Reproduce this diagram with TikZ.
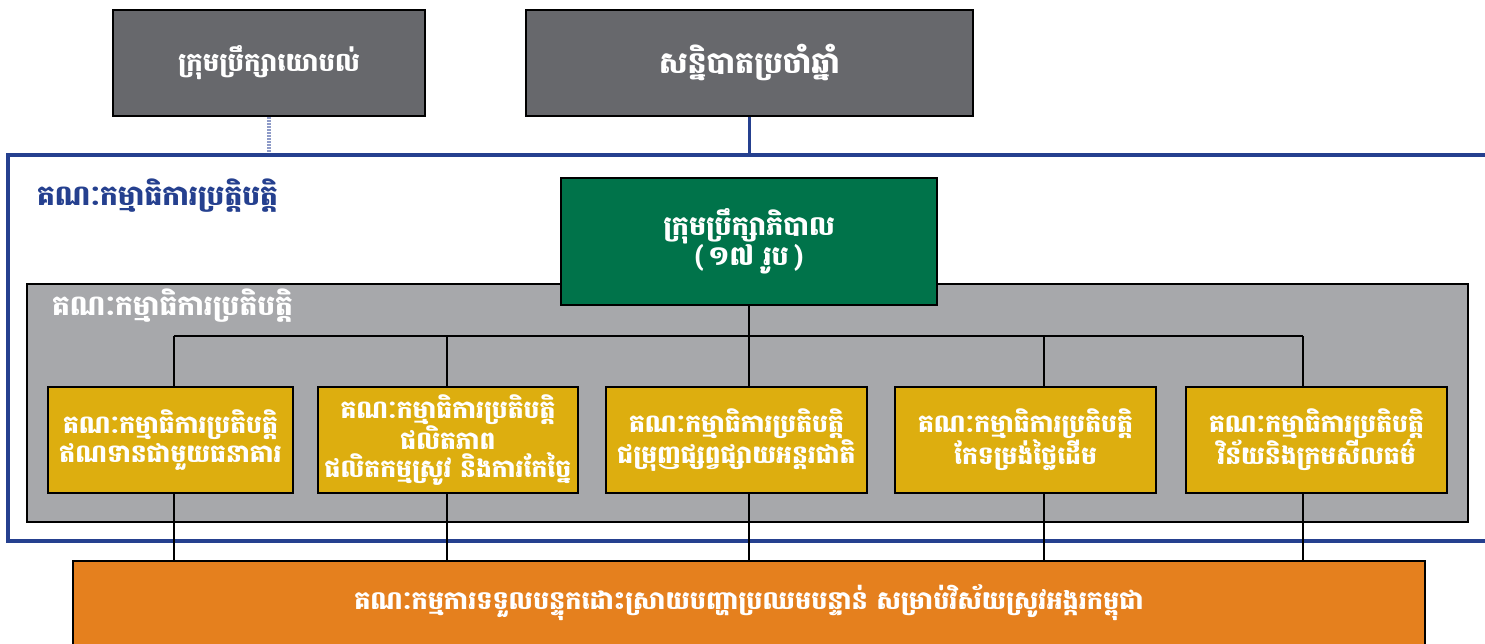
\documentclass[tikz,border=0pt]{standalone}
\usepackage{fontspec}
\newfontfamily\kh[Script=Khmer]{Battambang}
\definecolor{topgray}{HTML}{67686C}
\definecolor{navy}{HTML}{25408F}
\definecolor{boardgreen}{HTML}{00734A}
\definecolor{panelgray}{HTML}{A7A8AB}
\definecolor{gold}{HTML}{DDAE0F}
\definecolor{orangec}{HTML}{E5801E}
\definecolor{dotblue}{HTML}{8E9BC8}
\begin{document}
\begin{tikzpicture}[x=1pt,y=-1pt,
  box/.style={draw=black, line width=2.5pt, text=white, inner sep=0pt, align=center},
  topbox/.style={box, fill=topgray, font=\kh\bfseries\fontsize{26}{30}\selectfont},
  greenbox/.style={box, fill=boardgreen, font=\kh\bfseries\fontsize{27}{34}\selectfont},
  yellowbox/.style={box, fill=gold, minimum height=106pt, font=\kh\bfseries\fontsize{25}{29}\selectfont},
  orangebox/.style={box, fill=orangec, font=\kh\bfseries\fontsize{25.5}{30}\selectfont},
  conn/.style={draw=black, line width=2pt},
  lbl/.style={anchor=west, inner sep=0pt, font=\kh\bfseries\fontsize{28}{30}\selectfont}
]
\useasboundingbox (0,0) rectangle (1485,643);
\fill[white] (0,0) rectangle (1485,643);

% top boxes
\node[topbox, minimum width=312pt, minimum height=106pt] (advisory) at (269,63) {ក្រុមប្រឹក្សាយោបល់};
\node[topbox, minimum width=447pt, minimum height=106pt, font=\kh\bfseries\fontsize{30}{34}\selectfont] (agm) at (749.5,63) {សន្និបាតប្រចាំឆ្នាំ};

% blue frame
\node[draw=navy, line width=4pt, minimum width=1486pt, minimum height=386pt, inner sep=0pt] (frame) at (751,348) {};
\node[lbl, text=navy] (framelbl) at (37,196) {គណៈកម្មាធិការប្រត្តិបត្តិ};

\coordinate (advfoot) at (advisory.south |- frame.north);
\draw[dotblue, line width=4pt, dash pattern=on 1.5pt off 1.5pt] (advisory.south) -- (advfoot);
\draw[navy, line width=3.5pt] (agm.south) -- (agm.south |- frame.north);

% gray panel
\node[draw=black, fill=panelgray, line width=2.5pt, minimum width=1441pt, minimum height=238pt, inner sep=0pt] (panel) at (747.5,403) {};
\node[lbl, text=white] (panellbl) at (52,306) {គណៈកម្មាធិការប្រតិបត្តិ};

% board
\node[greenbox, minimum width=376pt, minimum height=127pt] (board) at (749,241.5) {ក្រុមប្រឹក្សាភិបាល\\[-4pt](\,១៧ រូប\,)};

% orange
\node[orangebox, minimum width=1352pt, minimum height=84pt] (orange) at (749,603) {គណៈកម្មការទទួលបន្ទុកដោះស្រាយបញ្ហាប្រឈមបន្ទាន់ សម្រាប់វិស័យស្រូវអង្ករកម្ពុជា};

% junction coordinates
\coordinate (jc) at (749,336);
\coordinate (ja) at (174,336);
\coordinate (jb) at (447,336);
\coordinate (jd) at (1044,336);
\coordinate (je) at (1303,336);

% yellow boxes
\node[yellowbox, minimum width=245pt] (ya) at (170.5,440) {គណៈកម្មាធិការប្រតិបត្តិ\\ឥណទានជាមួយធនាគារ};
\node[yellowbox, minimum width=260pt, font=\kh\bfseries\fontsize{25}{28}\selectfont] (yb) at (448,440) {គណៈកម្មាធិការប្រតិបត្តិ\\ផលិតភាព\\ផលិតកម្មស្រូវ និងការកែច្នៃ};
\node[yellowbox, minimum width=261pt] (yc) at (736.5,440) {គណៈកម្មាធិការប្រតិបត្តិ\\ជម្រុញផ្សព្វផ្សាយអន្តរជាតិ};
\node[yellowbox, minimum width=261pt] (yd) at (1025.5,440) {គណៈកម្មាធិការប្រតិបត្តិ\\កែទម្រង់ថ្លៃដើម};
\node[yellowbox, minimum width=261pt] (ye) at (1316.5,440) {គណៈកម្មាធិការប្រតិបត្តិ\\វិន័យនិងក្រមសីលធម៌};

% connectors
\draw[conn] (board.south) -- (jc);
\draw[conn] (ja) -- (je);
\draw[conn] (ja) -- (ja |- ya.north);
\draw[conn] (jb) -- (jb |- yb.north);
\draw[conn] (jc) -- (jc |- yc.north);
\draw[conn] (jd) -- (jd |- yd.north);
\draw[conn] (je) -- (je |- ye.north);
\draw[conn] (ja |- ya.south) -- (ja |- orange.north);
\draw[conn] (jb |- yb.south) -- (jb |- orange.north);
\draw[conn] (jc |- yc.south) -- (jc |- orange.north);
\draw[conn] (jd |- yd.south) -- (jd |- orange.north);
\draw[conn] (je |- ye.south) -- (je |- orange.north);
\end{tikzpicture}
\end{document}
